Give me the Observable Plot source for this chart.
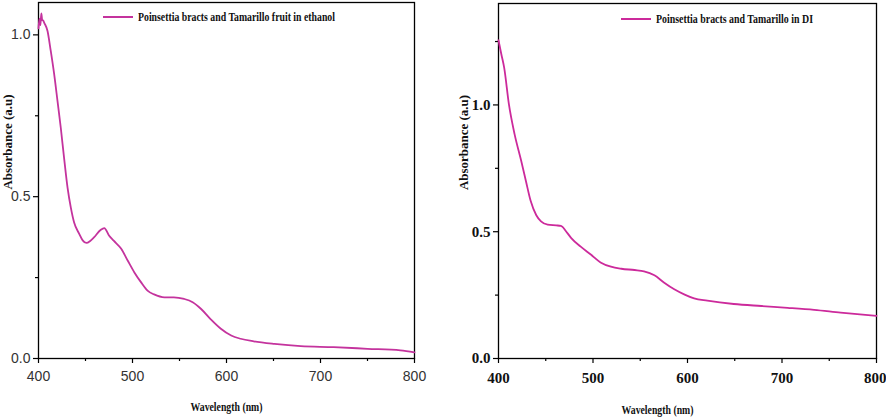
<!DOCTYPE html>
<html>
<head>
<meta charset="utf-8">
<script src="https://cdn.jsdelivr.net/npm/d3@7"></script>
<script src="https://cdn.jsdelivr.net/npm/@observablehq/plot@0.6"></script>
<style>
  body { margin: 0; background: #fff; }
  #wrap { position: relative; width: 886px; height: 417px; overflow: hidden; background: #fff; }
  .panel { position: absolute; top: 0; overflow: visible; }
  .legend { position: absolute; display: flex; align-items: center; white-space: nowrap; }
  .legend .sw { display: inline-block; width: 30px; height: 2px; margin-right: 5px; }
  .legend .tx { display: inline-block; font-family: "Liberation Serif", "Times New Roman", serif; font-weight: bold; font-size: 12px; color: #111; transform-origin: left center; }
</style>
</head>
<body>
<div id="wrap"></div>
<script>
// ---- data ----
const wlEthanol = [400, 401, 402, 403, 404, 405, 406, 409.6, 413, 416.6, 420.2, 423.7, 427.2, 430.9, 434.4, 437.9, 443.2, 447, 451, 455, 459, 466, 470, 475, 480, 488, 495, 502, 509, 516, 523, 534, 544, 555, 564, 573, 583, 594, 605, 615, 629, 651, 679, 714, 750, 785, 800];
const absEthanol = [1.02, 1.05, 1.03, 1.066, 1.045, 1.045, 1.038, 1.012, 0.951, 0.88, 0.796, 0.713, 0.62, 0.528, 0.466, 0.42, 0.386, 0.365, 0.357, 0.363, 0.374, 0.397, 0.403, 0.38, 0.364, 0.339, 0.302, 0.266, 0.236, 0.21, 0.198, 0.189, 0.189, 0.184, 0.174, 0.153, 0.122, 0.092, 0.071, 0.061, 0.053, 0.045, 0.038, 0.035, 0.030, 0.025, 0.019];

const wlDI = [400, 403, 406, 411, 417, 424, 429, 434, 440, 445, 452, 461, 466, 468, 471, 477, 487, 498, 508, 519, 530, 544, 554, 565, 575, 586, 597, 607, 621, 649, 678, 706, 734, 762, 800];
const absDI = [1.255, 1.2, 1.147, 1.003, 0.885, 0.78, 0.70, 0.622, 0.565, 0.541, 0.528, 0.525, 0.523, 0.518, 0.504, 0.475, 0.441, 0.409, 0.379, 0.362, 0.354, 0.349, 0.344, 0.328, 0.30, 0.273, 0.252, 0.237, 0.228, 0.215, 0.207, 0.2, 0.192, 0.181, 0.168];

const xMajor = [400, 500, 600, 700, 800];
const xMinor = [450, 550, 650, 750];
const yMajorLeft = [0, 0.5, 1.0];
const yMinorLeft = [0.25, 0.75];
const yMajorRight = [0, 0.5, 1.0];
const yMinorRight = [0.25, 0.75, 1.25];

const legendLeft = "Poinsettia bracts and Tamarillo fruit in ethanol";
const legendRight = "Poinsettia bracts and Tamarillo in DI";
const xTitle = "Wavelength (nm)";
const yTitle = "Absorbance (a.u)";

const serif = "Liberation Serif, Times New Roman, serif";

function squeeze(svg, str, len) {
  d3.select(svg).selectAll("text").filter(function() { return this.textContent === str; })
    .attr("textLength", len).attr("lengthAdjust", "spacingAndGlyphs");
}

function panel(cfg) {
  const svg = Plot.plot({
    width: cfg.width, height: 417,
    marginLeft: cfg.ml, marginRight: cfg.mr, marginTop: cfg.mt, marginBottom: 59,
    style: {fontFamily: cfg.tickFont, fontSize: cfg.tickSize + "px", fontWeight: cfg.tickWeight, color: cfg.tickColor, background: "white", overflow: "visible"},
    x: {domain: [400, 800]},
    y: {domain: [0, cfg.ymax]},
    marks: [
      Plot.axisX({ticks: xMajor, tickSize: 5, tickPadding: cfg.xPad, label: null, stroke: "black", strokeWidth: 1.2}),
      Plot.axisX({ticks: xMinor, tickSize: 3, tickFormat: () => "", label: null, stroke: "black", strokeWidth: 1.2}),
      Plot.axisY({ticks: cfg.yMajor, tickSize: 5, tickPadding: 3, tickFormat: d3.format(".1f"), label: null, stroke: "black", strokeWidth: 1.2}),
      Plot.axisY({ticks: cfg.yMinor, tickSize: 3, tickFormat: () => "", label: null, stroke: "black", strokeWidth: 1.2}),
      Plot.frame({stroke: "black", strokeWidth: 1.3}),
      Plot.line(cfg.wl, {x: cfg.wl, y: cfg.abs, stroke: cfg.color, strokeWidth: 1.8, curve: "monotone-x"}),
      Plot.text([xTitle], {text: d => d, frameAnchor: "bottom", dy: cfg.xTitleDy, dx: cfg.xTitleDx, lineAnchor: "middle", fontFamily: serif, fontWeight: "bold", fontSize: 12, fill: "#111"}),
      Plot.text([yTitle], {text: d => d, frameAnchor: "left", rotate: -90, dx: cfg.yTitleDx, dy: 9, lineAnchor: "middle", fontFamily: serif, fontWeight: "bold", fontSize: 13, fill: "#111"})
    ]
  });
  squeeze(svg, xTitle, 72);
  squeeze(svg, yTitle, 95);
  return svg;
}

const wrap = document.getElementById("wrap");

const left = panel({
  width: 420, ml: 38, mr: 6, mt: 2, ymax: 1.1,
  tickFont: "Liberation Sans Narrow, Liberation Sans, Arial, sans-serif", tickSize: 14, tickWeight: "normal", tickColor: "#333",
  xPad: 8, yMajor: yMajorLeft, yMinor: yMinorLeft,
  wl: wlEthanol, abs: absEthanol, color: "#c4339d",
  xTitleDy: 49, xTitleDx: 0, yTitleDx: -31
});
left.classList.add("panel");
left.style.left = "0px";
wrap.appendChild(left);

const right = panel({
  width: 446, ml: 58, mr: 10, mt: 3, ymax: 1.4,
  tickFont: serif, tickSize: 15, tickWeight: "bold", tickColor: "#111",
  xPad: 9, yMajor: yMajorRight, yMinor: yMinorRight,
  wl: wlDI, abs: absDI, color: "#cc2a9b",
  xTitleDy: 52, xTitleDx: -30, yTitleDx: -35
});
right.classList.add("panel");
right.style.left = "440px";
wrap.appendChild(right);

// keep the last right-panel tick label inside the window
d3.select(right).selectAll("text").filter(function() { return this.textContent === "800"; })
  .attr("text-anchor", "end").attr("dx", 10);

function legend(x, y, text, color, targetWidth) {
  const div = document.createElement("div");
  div.className = "legend";
  div.style.left = x + "px";
  div.style.top = (y - 8) + "px";
  div.style.height = "16px";
  const sw = document.createElement("span");
  sw.className = "sw";
  sw.style.background = color;
  const tx = document.createElement("span");
  tx.className = "tx";
  tx.textContent = text;
  div.appendChild(sw);
  div.appendChild(tx);
  wrap.appendChild(div);
  const w = tx.getBoundingClientRect().width;
  if (w > 0) tx.style.transform = `scaleX(${targetWidth / w})`;
}
legend(103, 17, legendLeft, "#c4339d", 197);
legend(621, 19, legendRight, "#cc2a9b", 157);
</script>
</body>
</html>
